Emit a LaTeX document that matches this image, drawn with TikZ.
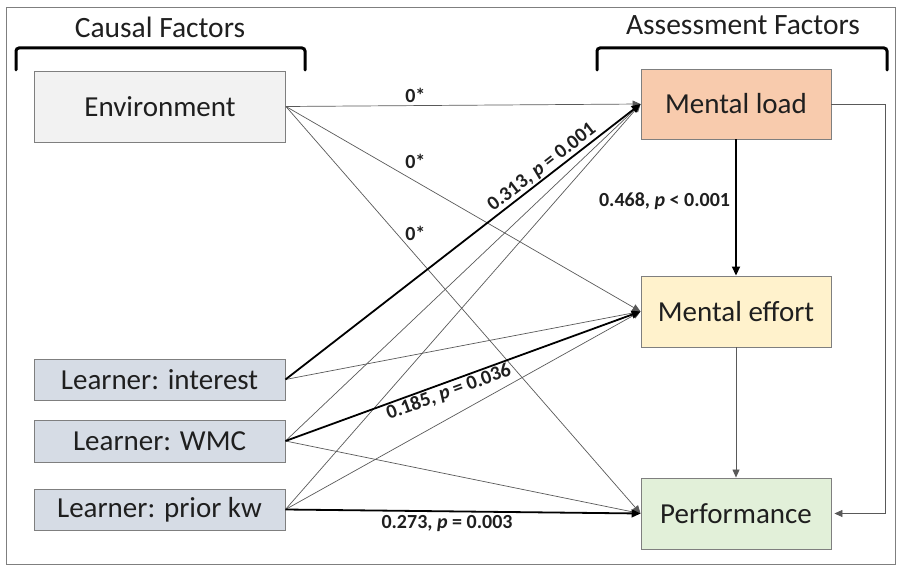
\documentclass[tikz,border=0pt]{standalone}
\usepackage{fontspec}
\setmainfont{Carlito}
\usetikzlibrary{arrows.meta}

\definecolor{boxline}{HTML}{7F7F7F}
\definecolor{envfill}{HTML}{F2F2F2}
\definecolor{lrnfill}{HTML}{D6DCE5}
\definecolor{loadfill}{HTML}{F8CBAD}
\definecolor{effortfill}{HTML}{FFF2CC}
\definecolor{perffill}{HTML}{E2F0D9}
\definecolor{thinline}{HTML}{595959}
\definecolor{txt}{HTML}{1F1F1F}

\begin{document}
\begin{tikzpicture}[x=1pt,y=-1pt,
  factor/.style={draw=boxline, line width=0.9pt, text=txt,
    font=\fontsize{29}{31}\selectfont, inner sep=0pt},
  wide/.style={minimum width=251pt},
  narrow/.style={minimum width=190pt},
  heading/.style={text=txt, font=\fontsize{29.5}{31}\selectfont, inner sep=0pt},
  bracketline/.style={line width=3pt, rounded corners=3pt, line cap=round},
  weak/.style={draw=thinline, line width=0.7pt,
    -{Triangle[length=8pt,width=7pt]}},
  strong/.style={draw=black, line width=1.8pt,
    -{Triangle[length=9pt,width=8pt]}},
  coef/.style={font=\fontsize{20}{21}\selectfont\bfseries, text=txt, inner sep=1pt}
]
\useasboundingbox (0,0) rectangle (902,567);
\draw[boxline, line width=0.8pt] (6.5,7.5) rectangle (895.5,564.5);

% headings and brackets
\node[heading] (hcausal) at (160,27) {Causal Factors};
\node[heading] (hassess) at (743,25) {Assessment Factors};
\draw[bracketline] (16,70) -- (16,48) -- (305,48) -- (305,70);
\draw[bracketline] (597,70) -- (597,48) -- (887,48) -- (887,70);

% causal factors
\node[factor, wide, fill=envfill, minimum height=71pt] (env) at (160,106.5) {Environment};
\node[factor, wide, fill=lrnfill, minimum height=41pt] (int) at (159.5,379.5) {Learner: interest};
\node[factor, wide, fill=lrnfill, minimum height=42pt] (wmc) at (159.5,441) {Learner: WMC};
\node[factor, wide, fill=lrnfill, minimum height=41pt] (pkw) at (159.5,509.5) {Learner: prior kw};

% assessment factors
\node[factor, narrow, fill=loadfill, minimum height=70pt] (ml) at (736,104) {Mental load};
\node[factor, narrow, fill=effortfill, minimum height=71pt] (me) at (736,311.5) {Mental effort};
\node[factor, narrow, fill=perffill, minimum height=71pt] (pf) at (736,513.5) {Performance};

% paths from the environment
\draw[weak] (env.east) -- (ml.west) node[coef, pos=0.365, above=2pt] {0*};
\draw[weak] (env.east) -- (me.west) node[coef, pos=0.365, above=11pt] {0*};
\draw[weak] (env.east) -- (pf.west) node[coef, pos=0.365, above=13pt] {0*};

% paths from the learner factors
\draw[weak] (int.east) -- (me.west);
\draw[weak] (wmc.east) -- (ml.west);
\draw[weak] (wmc.east) -- (pf.west);
\draw[weak] (pkw.east) -- (ml.west);
\draw[weak] (pkw.east) -- (me.west);
\draw[strong] (int.east) -- (ml.west)
  node[coef, pos=0.74, above, sloped] {0.313, \textit{p} = 0.001};
\draw[strong] (wmc.east) -- (me.west)
  node[coef, pos=0.45, below, sloped] {0.185, \textit{p} = 0.036};
\draw[strong] (pkw.east) -- (pf.west)
  node[coef, pos=0.455, below=2pt] {0.273, \textit{p} = 0.003};

% paths among the assessment factors
\draw[strong] (ml.south) -- (me.north)
  node[coef, pos=0.45, left=4pt] {0.468, \textit{p} < 0.001};
\draw[weak] (me.south) -- (pf.north);
\coordinate (rtop) at (885,104);
\coordinate (rbot) at (885,513.5);
\draw[weak] (ml.east) -- (rtop) -- (rbot) -- ([xshift=3pt]pf.east);
\end{tikzpicture}
\end{document}
